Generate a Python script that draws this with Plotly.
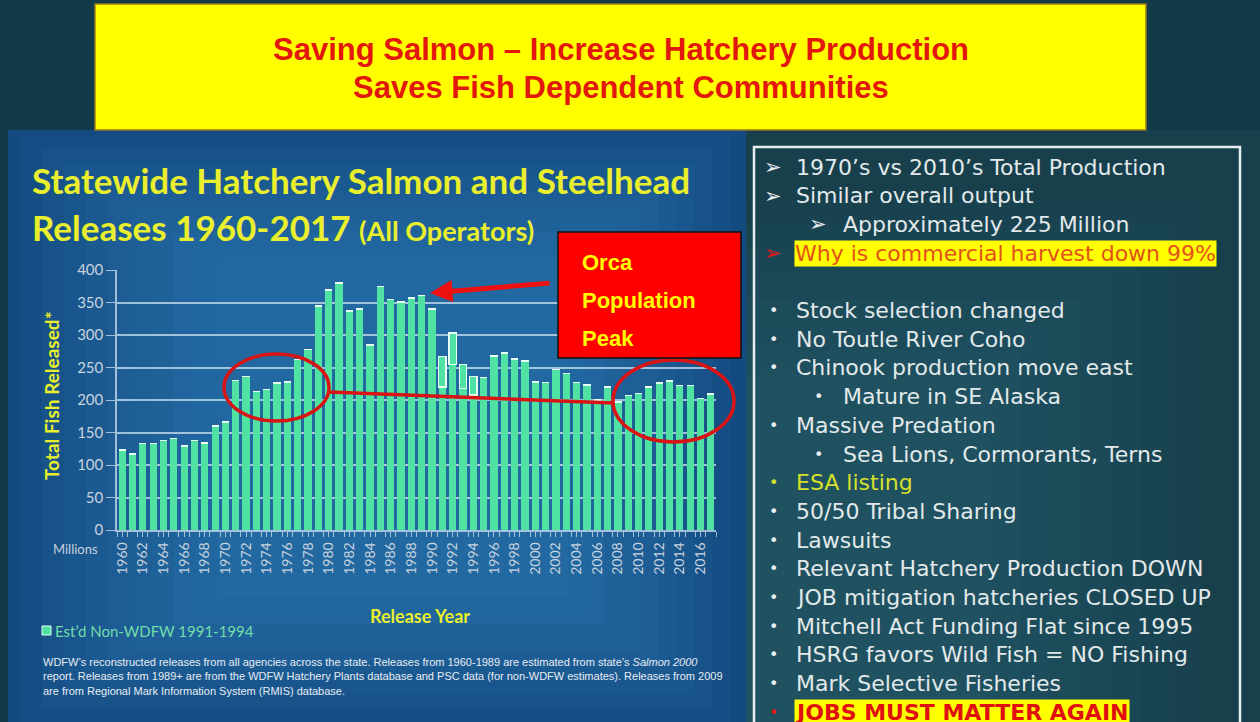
import plotly.graph_objects as go

W, H = 1260, 722

# ---------------- data ----------------
years = list(range(1960, 2018))
wdfw_releases = [
    123, 117, 133, 133, 138, 141, 129, 138, 134, 160,   # 1960-1969
    166, 230, 236, 213, 216, 226, 228, 262, 278, 345,   # 1970-1979
    369, 380, 337, 340, 285, 375, 355, 351, 357, 361,   # 1980-1989
    340, 220, 255, 218, 208, 235, 268, 272, 263, 260,   # 1990-1999
    228, 227, 247, 241, 227, 223, 200, 220, 197, 207,   # 2000-2009
    210, 220, 226, 229, 222, 222, 202, 209,             # 2010-2017
]
non_wdfw_est = [0] * 31 + [47, 48, 37, 28] + [0] * 23
y_ticks = [0, 50, 100, 150, 200, 250, 300, 350, 400]
x_tick_years = list(range(1960, 2018, 2))

title_lines = ["Saving Salmon \u2013 Increase Hatchery Production",
               "Saves Fish Dependent Communities"]
right_lines = [
    ("arrow", 0, "1970\u2019s vs 2010\u2019s Total Production", "plain"),
    ("arrow", 0, "Similar overall output", "plain"),
    ("arrow", 1, "Approximately 225 Million", "plain"),
    ("arrowred", 0, "Why is commercial harvest down 99%", "highlight"),
    (None, 0, "", "plain"),
    ("dot", 0, "Stock selection changed", "plain"),
    ("dot", 0, "No Toutle River Coho", "plain"),
    ("dot", 0, "Chinook production move east", "plain"),
    ("dot", 1, "Mature in SE Alaska", "plain"),
    ("dot", 0, "Massive Predation", "plain"),
    ("dot", 1, "Sea Lions, Cormorants, Terns", "plain"),
    ("dotyellow", 0, "ESA listing", "yellow"),
    ("dot", 0, "50/50 Tribal Sharing", "plain"),
    ("dot", 0, "Lawsuits", "plain"),
    ("dot", 0, "Relevant Hatchery Production DOWN", "plain"),
    ("dot", 0, "JOB mitigation hatcheries CLOSED UP", "plain"),
    ("dot", 0, "Mitchell Act Funding Flat since 1995", "plain"),
    ("dot", 0, "HSRG favors Wild Fish = NO Fishing", "plain"),
    ("dot", 0, "Mark Selective Fisheries", "plain"),
    ("dotred", 0, "JOBS MUST MATTER AGAIN", "jobs"),
]


def px(x):
    return x / W


def py(y):
    return 1 - y / H


def prect(x0, y0, x1, y1, **kw):
    d = dict(type="rect", xref="paper", yref="paper",
             x0=px(x0), x1=px(x1), y0=py(y1), y1=py(y0))
    d.update(kw)
    return d


BAR = "#50e2a2"
GRID = "rgba(205,225,240,0.75)"
YEL = "#e9ef2c"

fig = go.Figure()
fig.add_trace(go.Bar(x=years, y=wdfw_releases, marker=dict(color=BAR, line=dict(width=0)),
                     showlegend=False, name="Releases"))
fig.add_trace(go.Bar(x=years, y=non_wdfw_est,
                     marker=dict(color=BAR, line=dict(color="#e8fff4", width=1.5)),
                     name="Est\u2019d Non-WDFW 1991-1994", showlegend=False))

NL = dict(width=0)
shapes = []
# left panel background (blue with soft glow, built from many faint layers)
shapes.append(prect(8, 130, 746, 730, fillcolor="#134a80", line=NL, layer="below"))
for k in range(10):
    shapes.append(prect(20 + 22 * k, 135 + 14 * k, 730 - 18 * k, 722 - 14 * k,
                        fillcolor="#3a8fc4", opacity=0.07, line=NL, layer="below"))
# right panel background
shapes.append(prect(746, 130, 1260, 730, fillcolor="#173f4c", line=NL, layer="below"))
for k in range(8):
    shapes.append(prect(746, 200 + 25 * k, 1200 - 30 * k, 730,
                        fillcolor="#3a7a80", opacity=0.06, line=NL, layer="below"))
# white border around right panel text
shapes.append(prect(754, 147, 1240, 735, fillcolor="rgba(0,0,0,0)",
                    line=dict(color="#e8eef0", width=2.5), layer="below"))
# yellow title box
shapes.append(prect(95, 4, 1146, 130, fillcolor="#ffff00",
                    line=dict(color="#a07a20", width=1.5), layer="below"))
# red ellipses and connector
RED = "#d81414"
shapes.append(dict(type="circle", xref="paper", yref="paper", x0=px(224), x1=px(329),
                   y0=py(421), y1=py(354), line=dict(color=RED, width=3.5), layer="above"))
shapes.append(dict(type="circle", xref="paper", yref="paper", x0=px(613), x1=px(734),
                   y0=py(442), y1=py(360), line=dict(color=RED, width=3.5), layer="above"))
shapes.append(dict(type="line", xref="paper", yref="paper", x0=px(329), x1=px(613),
                   y0=py(392), y1=py(403), line=dict(color=RED, width=3.5), layer="above"))
# Orca box
shapes.append(prect(558, 232, 741, 358, fillcolor="#ff0000",
                    line=dict(color="#111111", width=1.5), layer="above"))
# custom legend swatch
shapes.append(prect(42, 626, 51, 635, fillcolor=BAR, line=dict(color="#e8fff4", width=1),
                    layer="above"))

ann = []
# slide title
for i, t in enumerate(title_lines):
    ann.append(dict(x=px(621), y=py(49 + 39 * i), xref="paper", yref="paper", text="<b>" + t + "</b>",
                    showarrow=False, xanchor="center", yanchor="middle",
                    font=dict(family="Liberation Sans", size=31, color="#e3180c")))
# chart title
ann.append(dict(x=px(30), y=py(180), xref="paper", yref="paper",
                text="<b>Statewide Hatchery Salmon and Steelhead</b>", showarrow=False,
                xanchor="left", yanchor="middle", font=dict(family="Lato", size=35, color=YEL)))
ann.append(dict(x=px(30), y=py(227), xref="paper", yref="paper",
                text="<b>Releases 1960-2017 <span style='font-size:27px'>(All Operators)</span></b>",
                showarrow=False, xanchor="left", yanchor="middle",
                font=dict(family="Lato", size=35, color=YEL)))
# axis title
ann.append(dict(x=px(51), y=py(396), xref="paper", yref="paper", text="<b>Total Fish Released*</b>",
                textangle=-90, showarrow=False, xanchor="center", yanchor="middle",
                font=dict(family="Lato", size=19, color=YEL)))
ann.append(dict(x=px(100), y=py(549), xref="paper", yref="paper", text="Millions",
                showarrow=False, xanchor="right", yanchor="middle",
                font=dict(family="Lato", size=13, color="#c5d0dc")))
ann.append(dict(x=px(420), y=py(616), xref="paper", yref="paper", text="<b>Release Year</b>",
                showarrow=False, xanchor="center", yanchor="middle",
                font=dict(family="Lato", size=18, color=YEL)))
# custom legend text
ann.append(dict(x=px(53), y=py(631), xref="paper", yref="paper",
                text="Est\u2019d Non-WDFW 1991-1994", showarrow=False, xanchor="left",
                yanchor="middle", font=dict(family="Lato", size=15, color="#72dcaa")))
# footnote
foot = ("WDFW\u2019s reconstructed releases from all agencies across the state. Releases from 1960-1989 are estimated from state\u2019s <i>Salmon 2000</i><br>"
        "report. Releases from 1989+ are from the WDFW Hatchery Plants database and PSC data (for non-WDFW estimates). Releases from 2009<br>"
        "are from Regional Mark Information System (RMIS) database.")
ann.append(dict(x=px(41), y=py(654), xref="paper", yref="paper", text=foot, align="left",
                showarrow=False, xanchor="left", yanchor="top",
                font=dict(family="Liberation Sans Narrow, Liberation Sans", size=11, color="#e6ecf2")))
# Orca box text
for i, t in enumerate(["Orca", "Population", "Peak"]):
    ann.append(dict(x=px(580), y=py(262 + 38 * i), xref="paper", yref="paper", text="<b>" + t + "</b>",
                    showarrow=False, xanchor="left", yanchor="middle",
                    font=dict(family="Liberation Sans", size=22, color="#ffff00")))
# arrow to population peak
ann.append(dict(x=px(430), y=py(293), xref="paper", yref="paper", text="", showarrow=True,
                ax=121, ay=-10, axref="pixel", ayref="pixel", arrowhead=2, arrowsize=0.9,
                arrowwidth=5, arrowcolor="#ee1111"))

# right panel text
y0 = 167
step = 28.7
for i, (bullet, lvl, txt, style) in enumerate(right_lines):
    yy = y0 + step * i
    if not txt:
        continue
    bx = 773 + 45 * lvl
    tx = 794 + 47 * lvl
    is_arrow = bullet.startswith("arrow")
    bchar = "\u27a2" if is_arrow else "\u2022"
    bcol = "#e8eef0"
    if bullet in ("arrowred", "dotred"):
        bcol = "#e01a1a"
    if bullet == "dotyellow":
        bcol = "#d6e02c"
    ann.append(dict(x=px(bx), y=py(yy), xref="paper", yref="paper", text=bchar,
                    showarrow=False, xanchor="center", yanchor="middle",
                    font=dict(family="DejaVu Sans", size=21 if is_arrow else 16, color=bcol)))
    fnt = dict(family="DejaVu Sans", size=22, color="#e2e9ea")
    extra = {}
    t = txt
    if style == "highlight":
        fnt["color"] = "#e2521a"
        extra = dict(bgcolor="#ffff00", borderpad=0)
    elif style == "yellow":
        fnt["color"] = "#d6e02c"
    elif style == "jobs":
        fnt["color"] = "#e01010"
        t = "<b>" + txt + "</b>"
        extra = dict(bgcolor="#ffff00", borderpad=0)
    ann.append(dict(x=px(tx), y=py(yy), xref="paper", yref="paper", text=t,
                    showarrow=False, xanchor="left", yanchor="middle", font=fnt, **extra))

fig.update_layout(
    width=W, height=H,
    margin=dict(l=0, r=0, t=0, b=0, pad=0, autoexpand=False),
    paper_bgcolor="#123b49",
    plot_bgcolor="rgba(0,0,0,0)",
    barmode="stack",
    bargap=0.3,
    shapes=shapes,
    annotations=ann,
    showlegend=False,
    xaxis=dict(domain=[px(117), px(716)], range=[1959.5, 2017.5], automargin=False,
               tickmode="array", tickvals=x_tick_years, ticktext=[str(y) for y in x_tick_years],
               tickangle=-90, tickfont=dict(family="Lato", size=14, color="#c8d3de"),
               showgrid=False, showline=True, linecolor=GRID, linewidth=1.5,
               ticks="outside", ticklen=5, tickcolor=GRID,
               minor=dict(ticks="outside", dtick=1, tick0=1959.5, ticklen=5, tickcolor=GRID),
               zeroline=False, fixedrange=True),
    yaxis=dict(domain=[py(530), py(270)], range=[0, 400], automargin=False,
               tickmode="array", tickvals=y_ticks, ticktext=[str(v) for v in y_ticks],
               tickfont=dict(family="Lato", size=15, color="#c8d3de"),
               showgrid=True, gridcolor=GRID, gridwidth=1.5,
               showline=True, linecolor=GRID, linewidth=1.5,
               ticks="outside", ticklen=9, tickcolor=GRID, zeroline=False, fixedrange=True),
)

fig.write_html("out.html", config={"displayModeBar": False},
               post_script="document.body.style.margin='0px';")
